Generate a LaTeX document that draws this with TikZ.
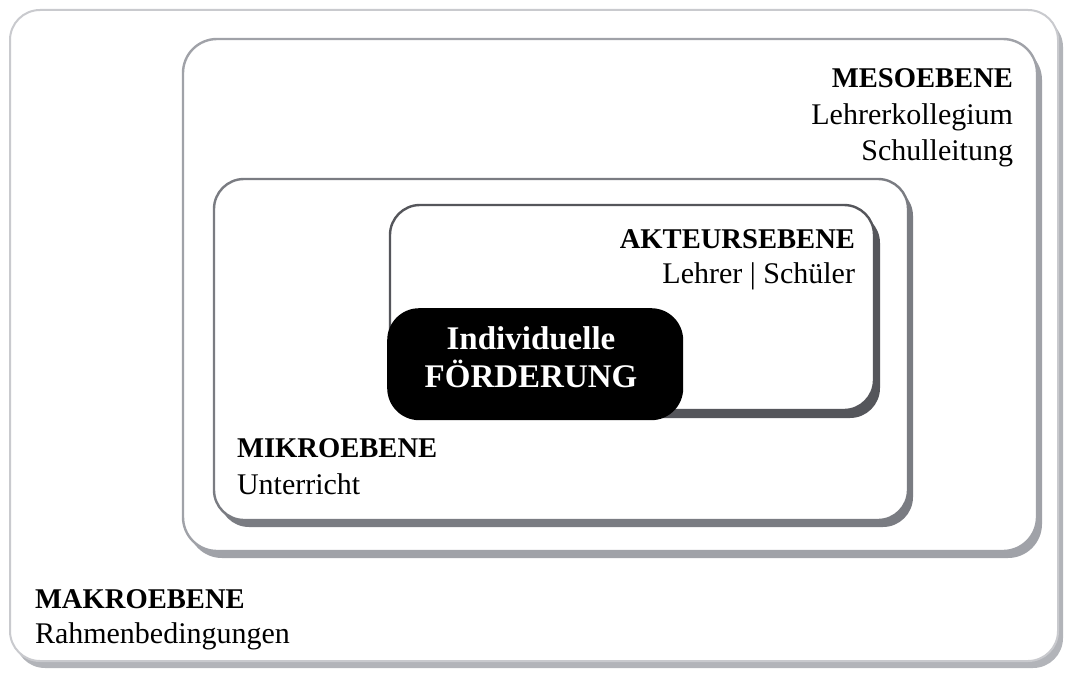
\documentclass[tikz,border=0pt]{standalone}
\usepackage{fontspec}
\setmainfont{Liberation Serif}
\usetikzlibrary{shadows}
\definecolor{makroline}{HTML}{C9CACE}
\definecolor{makroshadow}{HTML}{B2B4B9}
\definecolor{mesoline}{HTML}{A0A2A8}
\definecolor{mikroline}{HTML}{7A7C82}
\definecolor{aktline}{HTML}{55565B}
\tikzset{
  levelbox/.style={draw=#1, fill=white, line width=2.4pt, inner sep=0pt, outer sep=0pt,
    anchor=north west, rectangle},
  lbl/.style={font=\fontsize{30}{36}\selectfont, inner sep=0pt, outer sep=0pt, text=black},
  lblbold/.style={lbl, font=\fontsize{28.6}{36}\selectfont\bfseries},
}
\begin{document}
\begin{tikzpicture}[x=1pt,y=-1pt]
\useasboundingbox (0,0) rectangle (1065,677);
% Makroebene
\node[levelbox=makroline, line width=2pt, rounded corners=30pt,
  minimum width=1048pt, minimum height=651pt,
  drop shadow={shadow xshift=5pt, shadow yshift=-7pt, fill=makroshadow, opacity=1}]
  (makro) at (10,10) {};
% Mesoebene
\node[levelbox=mesoline, rounded corners=34pt,
  minimum width=854pt, minimum height=512pt,
  drop shadow={shadow xshift=5pt, shadow yshift=-7pt, fill=mesoline, opacity=1}]
  (meso) at (183,39) {};
% Mikroebene
\node[levelbox=mikroline, rounded corners=30pt,
  minimum width=694pt, minimum height=341pt,
  drop shadow={shadow xshift=5pt, shadow yshift=-7pt, fill=mikroline, opacity=1}]
  (mikro) at (214,179) {};
% Akteursebene
\node[levelbox=aktline, rounded corners=30pt,
  minimum width=484pt, minimum height=205pt,
  drop shadow={shadow xshift=6pt, shadow yshift=-8pt, fill=aktline, opacity=1}]
  (akteur) at (390,205) {};
% Individuelle Foerderung
\node[fill=black, draw=none, rounded corners=32pt, anchor=north west, inner sep=0pt,
  minimum width=296pt, minimum height=112pt] (foerd) at (387,308) {};
\node[anchor=base, inner sep=0pt, text=white, align=center,
  font=\fontsize{33}{38}\selectfont\bfseries] (foerdtext) at (531,387)
  {Individuelle\\FÖRDERUNG};

% Labels
\node[lblbold, anchor=base east] (mesot) at (1013,88) {MESOEBENE};
\node[lbl, anchor=base east] (mesos1) at (1013,124) {Lehrerkollegium};
\node[lbl, anchor=base east] (mesos2) at (1013,160) {Schulleitung};

\node[lblbold, anchor=base east] (aktt) at (855,248) {AKTEURSEBENE};
\node[lbl, anchor=base east] (akts) at (855,283) {Lehrer | Schüler};

\node[lblbold, anchor=base west] (mikrot) at (237,457) {MIKROEBENE};
\node[lbl, anchor=base west] (mikros) at (237,494) {Unterricht};

\node[lblbold, anchor=base west] (makrot) at (35,608) {MAKROEBENE};
\node[lbl, anchor=base west] (makros) at (35,643) {Rahmenbedingungen};
\end{tikzpicture}
\end{document}
